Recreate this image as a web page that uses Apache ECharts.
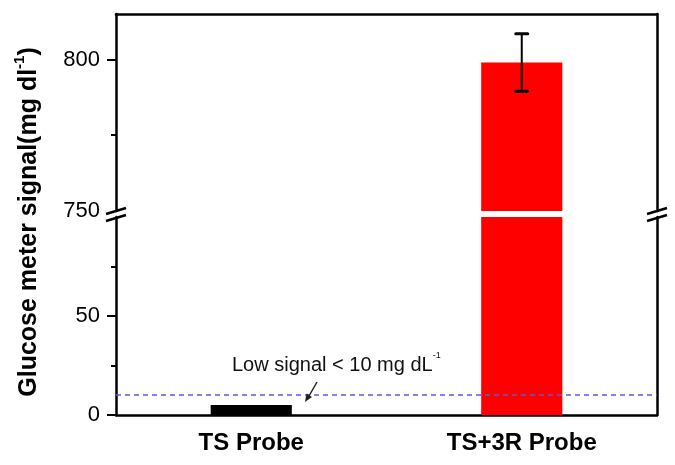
<!DOCTYPE html>
<html>
<head>
<meta charset="utf-8">
<script src="https://cdn.jsdelivr.net/npm/echarts@6/dist/echarts.min.js"></script>
<style>html,body{margin:0;padding:0;background:#fff;}#c{width:675px;height:465px;}</style>
</head>
<body>
<div id="c"></div>
<script>
const categories = ['TS Probe', 'TS+3R Probe'];
const signal = [5, 799];
const errHalf = [0, 9.5];
const thresholdValue = 10;
const upperRange = [750, 815];
const lowerRange = [0, 100];
const upperMajorTicks = [800];
const upperLabels = [750, 800];
const upperMinorTicks = [775];
const lowerMajorTicks = [0, 50];
const lowerLabels = [0, 50];
const lowerMinorTicks = [25, 75];
const barColors = ['#000000', '#ff0000'];

const FONT = 'Arial, "Liberation Sans", sans-serif';
const chart = echarts.init(document.getElementById('c'));

const grids = [
  {left: 116, right: 18, top: 14, height: 197},
  {left: 116, right: 18, top: 217, height: 198}
];

function lineAxisStyle() { return {show: true, onZero: false, lineStyle: {color: '#000', width: 2.5}}; }

function yMain(grid, range, ticks, labels) {
  return {
    type: 'value', gridIndex: grid, min: range[0], max: range[1], position: 'left',
    axisLine: lineAxisStyle(),
    axisTick: {show: true, inside: false, length: 9, customValues: ticks, lineStyle: {color: '#000', width: 2}},
    axisLabel: {show: true, customValues: labels, fontSize: 22, fontFamily: FONT, color: '#000', margin: 16},
    splitLine: {show: false}
  };
}
function yMinor(grid, range, ticks) {
  return {
    type: 'value', gridIndex: grid, min: range[0], max: range[1], position: 'left',
    axisLine: {show: false},
    axisTick: {show: true, inside: false, length: 5, customValues: ticks, lineStyle: {color: '#000', width: 2}},
    axisLabel: {show: false}, splitLine: {show: false}
  };
}
function yRight(grid, range) {
  return {
    type: 'value', gridIndex: grid, min: range[0], max: range[1], position: 'right',
    axisLine: lineAxisStyle(), axisTick: {show: false}, axisLabel: {show: false}, splitLine: {show: false}
  };
}

const barData = signal.map((v, i) => ({value: v, itemStyle: {color: barColors[i]}}));
const errData = signal.map((v, i) => [i, v - errHalf[i], v + errHalf[i]]).filter((d, i) => errHalf[i] > 0);

function breakMark(cx, cy) {
  return {
    type: 'group', x: cx, y: cy, z: 100,
    children: [
      {type: 'polygon', shape: {points: [[-10, -0.5], [10, -6.5], [10, 0.5], [-10, 6.5]]}, style: {fill: '#fff'}},
      {type: 'line', shape: {x1: -10, y1: -0.5, x2: 10, y2: -6.5}, style: {stroke: '#000', lineWidth: 2.5}},
      {type: 'line', shape: {x1: -10, y1: 6.5, x2: 10, y2: 0.5}, style: {stroke: '#000', lineWidth: 2.5}}
    ]
  };
}

const option = {
  animation: false,
  backgroundColor: '#fff',
  grid: grids,
  xAxis: [
    {type: 'category', gridIndex: 0, data: categories, position: 'top',
     axisLine: lineAxisStyle(), axisTick: {show: false}, axisLabel: {show: false}},
    {type: 'category', gridIndex: 1, data: categories, position: 'bottom',
     axisLine: lineAxisStyle(), axisTick: {show: false},
     axisLabel: {show: true, fontSize: 24, fontWeight: 'bold', fontFamily: FONT, color: '#000', margin: 16}}
  ],
  yAxis: [
    yMain(0, upperRange, upperMajorTicks, upperLabels),
    yMinor(0, upperRange, upperMinorTicks),
    yRight(0, upperRange),
    yMain(1, lowerRange, lowerMajorTicks, lowerLabels),
    yMinor(1, lowerRange, lowerMinorTicks),
    yRight(1, lowerRange)
  ],
  series: [
    {type: 'bar', xAxisIndex: 0, yAxisIndex: 0, data: barData, barWidth: '30%', clip: true},
    {type: 'bar', xAxisIndex: 1, yAxisIndex: 3, data: barData, barWidth: '30%', clip: true,
     markLine: {silent: true, symbol: 'none', label: {show: false},
       lineStyle: {color: '#5a5ae0', width: 1.6, type: [5, 4]},
       data: [{yAxis: thresholdValue}]}},
    {type: 'custom', xAxisIndex: 0, yAxisIndex: 0, data: errData, z: 10,
     renderItem: function (params, api) {
       const x = api.value(0);
       const lo = api.coord([x, api.value(1)]);
       const hi = api.coord([x, api.value(2)]);
       const cw = 6;
       return {type: 'group', children: [
         {type: 'line', shape: {x1: lo[0], y1: lo[1], x2: hi[0], y2: hi[1]}, style: {stroke: '#000', lineWidth: 2}},
         {type: 'line', shape: {x1: hi[0] - cw, y1: hi[1], x2: hi[0] + cw, y2: hi[1]}, style: {stroke: '#000', lineWidth: 3, lineCap: 'round'}},
         {type: 'line', shape: {x1: lo[0] - cw, y1: lo[1], x2: lo[0] + cw, y2: lo[1]}, style: {stroke: '#000', lineWidth: 3, lineCap: 'round'}}
       ]};
     }}
  ],
  graphic: [
    breakMark(116, 214.5),
    breakMark(657, 214.5),
    {type: 'text', x: 27, y: 222, rotation: Math.PI / 2, z: 100,
     style: {text: '{a|Glucose meter signal(mg dl}{s|-1}{a|)}', align: 'center', verticalAlign: 'middle',
       rich: {
         a: {fontSize: 25, fontWeight: 'bold', fontFamily: FONT, fill: '#000', lineHeight: 30, verticalAlign: 'bottom'},
         s: {fontSize: 15, fontWeight: 'bold', fontFamily: FONT, fill: '#000', lineHeight: 30, verticalAlign: 'top'}
       }}},
    {type: 'text', x: 232, y: 363, z: 100,
     style: {text: '{a|Low signal < 10 mg dL}{s|-1}', align: 'left', verticalAlign: 'middle',
       rich: {
         a: {fontSize: 20, fontFamily: FONT, fill: '#111', lineHeight: 24, verticalAlign: 'bottom'},
         s: {fontSize: 9, fontFamily: FONT, fill: '#111', lineHeight: 24, verticalAlign: 'top'}
       }}},
    {type: 'line', z: 100, shape: {x1: 317, y1: 382, x2: 309, y2: 396}, style: {stroke: '#222', lineWidth: 1.5}},
    {type: 'polygon', z: 100, shape: {points: [[305, 402], [306.5, 393.5], [312, 397]]}, style: {fill: '#222'}}
  ]
};
chart.setOption(option);
</script>
</body>
</html>
